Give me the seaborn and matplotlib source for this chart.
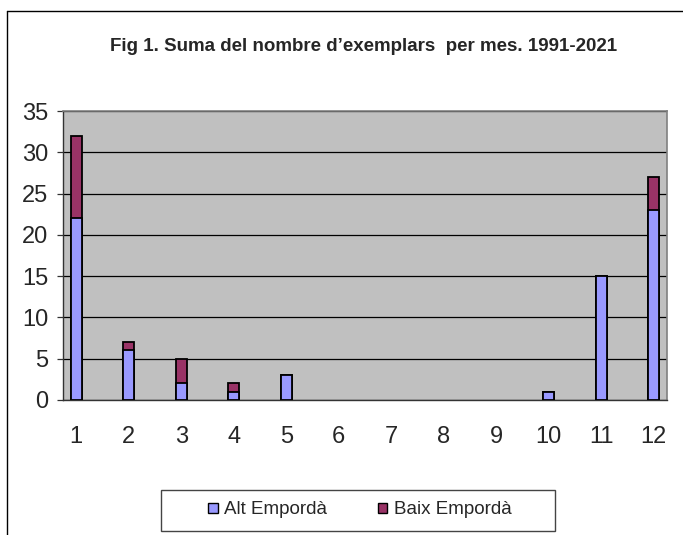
import matplotlib
matplotlib.use("Agg")
import matplotlib.pyplot as plt
import seaborn as sns
import pandas as pd
import numpy as np
from matplotlib.patches import Rectangle, Patch
from matplotlib.lines import Line2D

months = ["1", "2", "3", "4", "5", "6", "7", "8", "9", "10", "11", "12"]
alt_emporda = [22, 6, 2, 1, 3, 0, 0, 0, 0, 1, 15, 23]
baix_emporda = [10, 1, 3, 1, 0, 0, 0, 0, 0, 0, 0, 4]
series_names = ["Alt Empordà", "Baix Empordà"]
colors = ["#9999FF", "#993366"]
title = "Fig 1. Suma del nombre d\u2019exemplars  per mes. 1991-2021"

df = pd.DataFrame({"mes": months, "alt": alt_emporda, "baix": baix_emporda})
df["total"] = df["alt"] + df["baix"]

sns.set_style("white")
plt.rcParams["font.family"] = ["Liberation Sans", "DejaVu Sans"]

fig = plt.figure(figsize=(6.83, 5.35), dpi=100)
ax = fig.add_axes([63/683, 1-400/535, (667-63)/683, (400-111)/535])
ax.set_facecolor("#C0C0C0")

sns.barplot(data=df[df["total"] > 0], x="mes", y="total", order=months,
            color=colors[1], width=0.21,
            edgecolor="black", linewidth=1.3, ax=ax, saturation=1, zorder=3)
sns.barplot(data=df[df["alt"] > 0], x="mes", y="alt", order=months,
            color=colors[0], width=0.21,
            edgecolor="black", linewidth=1.3, ax=ax, saturation=1, zorder=4)

ax.set_xlim(-0.25, 11.25)
ax.set_ylim(0, 35)
ax.set_yticks(range(0, 36, 5))
ax.set_xlabel("")
ax.set_ylabel("")
ax.yaxis.grid(True, color="black", linewidth=0.9, zorder=1)
ax.set_axisbelow(True)

ax.set_xticks(range(12))
ax.set_xticklabels(months)
ax.set_xticks(np.arange(-0.25, 11.5, 0.5), minor=True)
ax.tick_params(axis="x", which="major", length=0, pad=19, labelsize=17)
ax.tick_params(axis="x", which="minor", length=6, width=0.9, color="#333333", direction="out")
ax.tick_params(axis="y", which="major", length=4.5, width=0.9, color="#333333",
               direction="out", pad=6, labelsize=17, left=True)

for s in ["top", "right"]:
    ax.spines[s].set_color("#808080")
    ax.spines[s].set_linewidth(1.2)
for s in ["left", "bottom"]:
    ax.spines[s].set_color("#333333")
    ax.spines[s].set_linewidth(1.0)
    ax.spines[s].set_visible(True)

fig.text(364/683, 1-47/535, title, ha="center", va="center",
         fontsize=13.5, fontweight="bold")

# outer frame
fig.add_artist(Line2D([7/683, 7/683], [0, 1-11/535], color="black", linewidth=1.0,
                      transform=fig.transFigure))
fig.add_artist(Line2D([7/683, 1], [1-11/535, 1-11/535], color="black", linewidth=1.0,
                      transform=fig.transFigure))

# legend box
fig.add_artist(Rectangle((161/683, 1-531/535), (555-161)/683, 41/535,
                         transform=fig.transFigure, fill=False,
                         edgecolor="#444444", linewidth=1.0))
handles = [Patch(facecolor=c, edgecolor="black", linewidth=1.0) for c in colors]
leg = fig.legend(handles, series_names, loc="center", bbox_to_anchor=(360/683, 1-510/535),
                 ncol=2, frameon=False, fontsize=13.5, handlelength=0.5, handleheight=0.5,
                 handletextpad=0.35, columnspacing=2.7)

fig.savefig("out.png", dpi=100)
